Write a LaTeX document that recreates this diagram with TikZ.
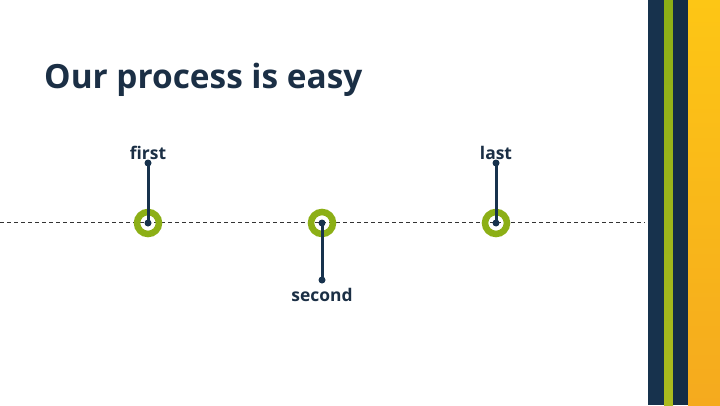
\documentclass[tikz,border=0pt]{standalone}
\usepackage{fontspec}
\setmainfont{Open Sans}
\usepackage{xcolor}
\definecolor{mNavy}{HTML}{17324D}
\definecolor{mText}{HTML}{1B2F45}
\definecolor{mGreen}{HTML}{8CAF16}
\definecolor{mGreenLow}{HTML}{ABBB1E}
\definecolor{mYellow}{HTML}{FDC615}
\definecolor{mOrange}{HTML}{F5AA1E}
\usetikzlibrary{positioning}

\tikzset{
  ring/.style={circle, draw=mGreen, line width=6.5bp, minimum size=22bp, inner sep=0pt},
  dot/.style={circle, fill=mNavy, minimum size=7bp, inner sep=0pt},
  stem/.style={mNavy, line width=3bp},
  tag/.style={font=\fontsize{17.5}{20}\selectfont\bfseries, text=mText, inner sep=1bp}
}

\begin{document}
\begin{tikzpicture}[x=1bp, y=1bp]
\useasboundingbox (0,0) rectangle (720,405);
% side stripes
\fill[mNavy] (648,0) rectangle (664,405);
\shade[top color=mGreen, bottom color=mGreenLow] (664,0) rectangle (673,405);
\fill[mNavy!90!black] (673,0) rectangle (688,405);
\shade[top color=mYellow, bottom color=mOrange] (688,0) rectangle (720,405);
% title
\node[anchor=base west, font=\fontsize{33.5}{38}\selectfont\bfseries, text=mText, inner sep=0pt] (title) at (44,317) {Our process is easy};
% timeline
\coordinate (lineL) at (0,183);
\coordinate (lineR) at (645,183);
\draw[black!80, dashed, dash pattern=on 4bp off 3bp, line width=0.8bp] (lineL) -- (lineR);
% first
\node[ring] (p1) at (148,182) {};
\node[dot] (d1) at (148,242) {};
\draw[stem] (p1.center) -- (d1.center);
\node[dot] (c1) at (p1.center) {};
\node[tag, above=-2bp of d1] (l1) {first};
% second
\node[ring] (p2) at (322,182) {};
\node[dot] (d2) at (322,125) {};
\draw[stem] (p2.center) -- (d2.center);
\node[dot] (c2) at (p2.center) {};
\node[tag, below=3bp of d2] (l2) {second};
% last
\node[ring] (p3) at (496,182) {};
\node[dot] (d3) at (496,242) {};
\draw[stem] (p3.center) -- (d3.center);
\node[dot] (c3) at (p3.center) {};
\node[tag, above=-2bp of d3] (l3) {last};
\end{tikzpicture}
\end{document}
